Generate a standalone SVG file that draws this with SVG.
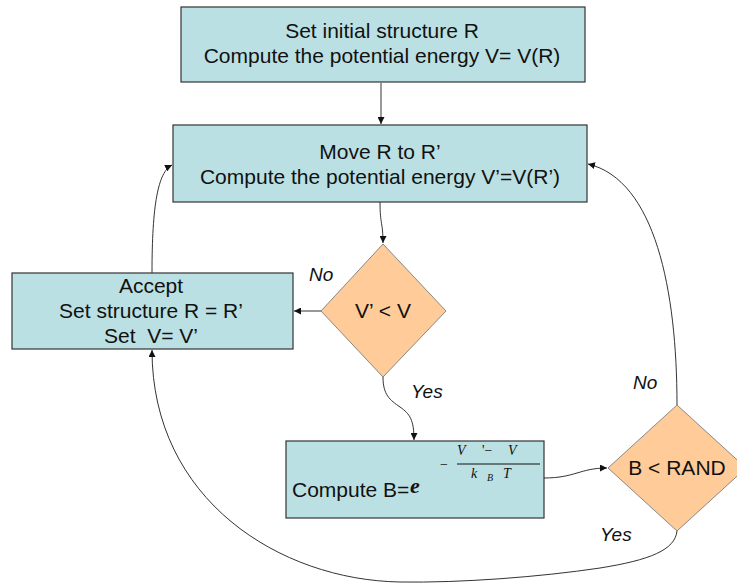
<svg xmlns="http://www.w3.org/2000/svg" width="737" height="583" viewBox="0 0 737 583">
<defs>
<marker id="arr" viewBox="0 0 10 10" refX="10" refY="5" markerWidth="7" markerHeight="7" markerUnits="userSpaceOnUse" orient="auto">
<path d="M0,0 L10,5 L0,10 z" fill="#111"/>
</marker>
<style>
.box{fill:#BBE0E3;stroke:#333;stroke-width:1.2}
.dia{fill:#FFCC99;stroke:#888;stroke-width:1}
.t{font-family:"Liberation Sans",Arial,sans-serif;font-size:21px;fill:#111;text-anchor:middle}
.lbl{font-family:"Liberation Sans",Arial,sans-serif;font-size:19px;font-style:italic;fill:#111}
.c{fill:none;stroke:#333;stroke-width:1;marker-end:url(#arr)}
.m{font-family:"Liberation Serif","Times New Roman",serif;font-style:italic;font-size:14px;fill:#111}
</style>
</defs>
<g id="init">
<rect class="box" x="181" y="7" width="404" height="75"/>
<text class="t" x="382" y="38">Set initial structure R</text>
<text class="t" x="382" y="63">Compute the potential energy V= V(R)</text>
</g>
<g id="move">
<rect class="box" x="173" y="125" width="414" height="77"/>
<text class="t" x="380" y="159">Move R to R’</text>
<text class="t" x="380" y="184">Compute the potential energy V’=V(R’)</text>
</g>
<g id="accept">
<rect class="box" x="12" y="273" width="281" height="76"/>
<text class="t" x="151" y="293">Accept</text>
<text class="t" x="151" y="318">Set structure R = R’</text>
<text class="t" x="151" y="343" xml:space="preserve">Set  V= V’</text>
</g>
<g id="cmp1">
<polygon class="dia" points="383,244 446,311 383,377 321,311"/>
<text class="t" x="383" y="318">V’ &lt; V</text>
</g>
<g id="computeB">
<rect class="box" x="286" y="441" width="258" height="77"/>
<text class="t" x="292" y="497" style="text-anchor:start">Compute B=</text>
<text x="410" y="493" style="font-family:'Liberation Serif',serif;font-style:italic;font-weight:bold;font-size:22px;fill:#111">e</text>
<text class="m" x="440" y="469" style="font-style:normal">−</text>
<text class="m" x="457" y="455">V</text>
<text class="m" x="482" y="455" style="font-style:normal">'−</text>
<text class="m" x="508" y="455">V</text>
<line x1="457" y1="464" x2="540" y2="464" stroke="#111" stroke-width="1"/>
<text class="m" x="471" y="478">k</text>
<text class="m" x="487" y="481" style="font-size:10px">B</text>
<text class="m" x="503" y="478">T</text>
</g>
<g id="cmp2">
<polygon class="dia" points="677,405 746,468 677,531 608,468"/>
<text class="t" x="677" y="475">B &lt; RAND</text>
</g>
<g id="connectors">
<line class="c" x1="381" y1="83" x2="381" y2="124"/>
<path class="c" d="M380,202 C380,225 383,222 383,243"/>
<line class="c" x1="321" y1="311" x2="294" y2="311"/>
<path class="c" d="M383,377 C383,395 390,400 400,407 C410,414 414,420 414,440"/>
<path class="c" d="M544,478 C575,478 580,468 607,468"/>
<path class="c" d="M677,405 C677,290 655,180 588,164"/>
<path class="c" d="M152,273 C152,205 158,172 172,165"/>
<path class="c" d="M677,531 C675,550 650,560 600,568 C540,577 460,583 400,582 C280,580 152,500 152,350"/>
</g>
<g id="labels">
<text class="lbl" x="309" y="281">No</text>
<text class="lbl" x="411" y="398">Yes</text>
<text class="lbl" x="633" y="389">No</text>
<text class="lbl" x="600" y="541">Yes</text>
</g>
</svg>
